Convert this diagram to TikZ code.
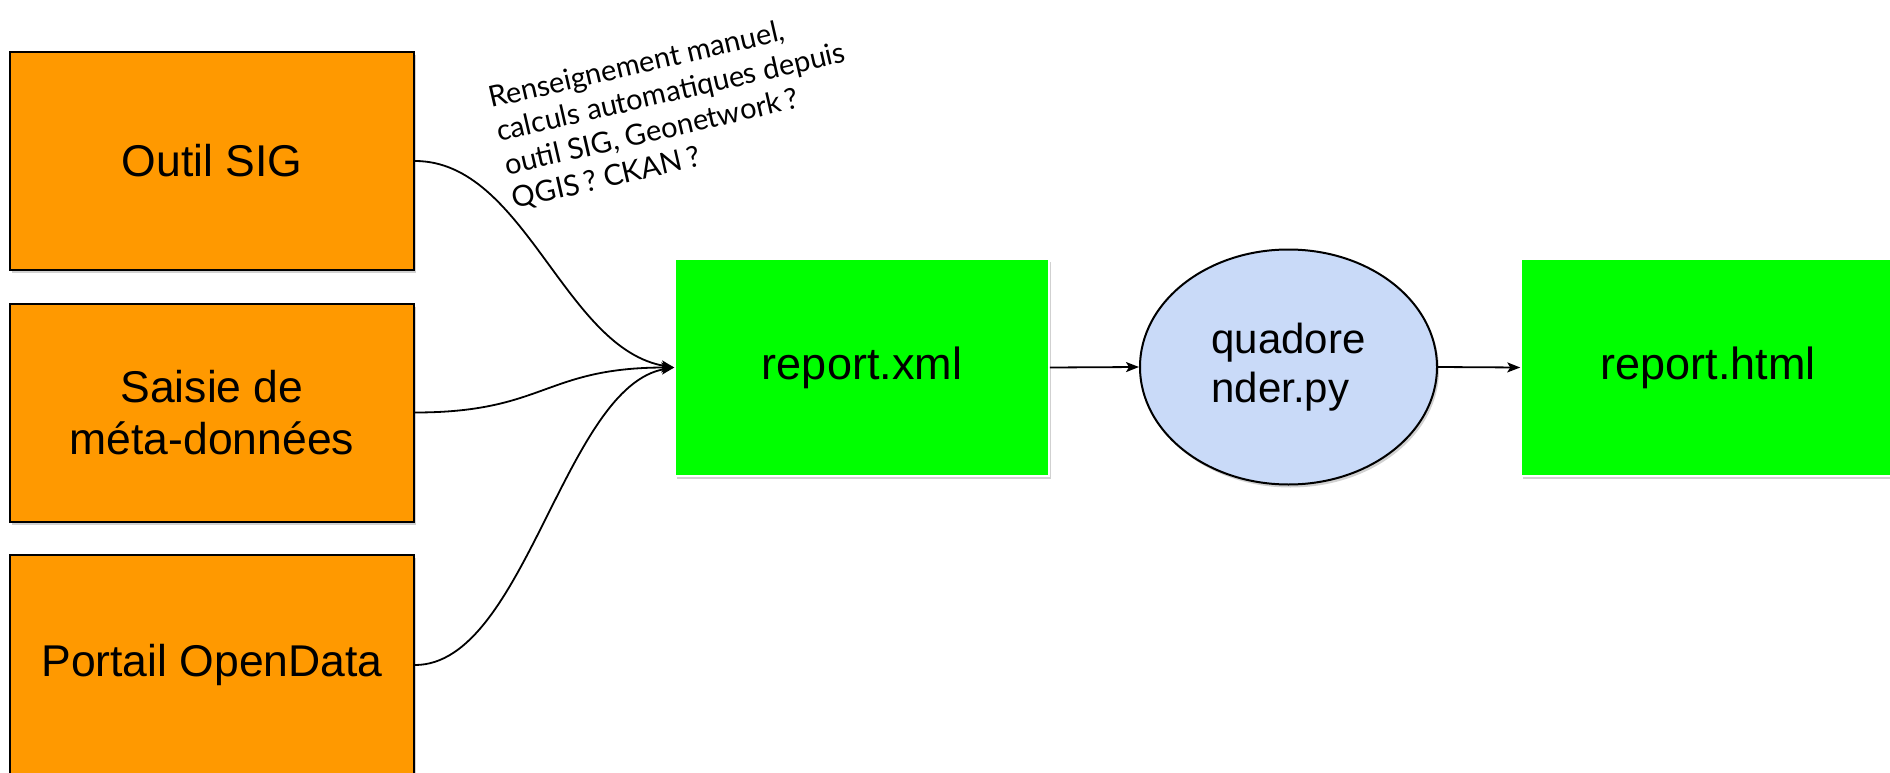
\documentclass[tikz,border=0pt]{standalone}
\usepackage{fontspec}
\setmainfont{Liberation Sans}
\newfontfamily\latofont{Lato}
\usetikzlibrary{arrows.meta,shapes.geometric,shadows}
\definecolor{orangebox}{HTML}{FF9900}
\definecolor{greenbox}{HTML}{00FF00}
\definecolor{bluebox}{HTML}{C9DAF8}
\tikzset{
  srcbox/.style={draw=black, line width=2pt, fill=orangebox, minimum width=404pt, minimum height=218pt, inner sep=0pt,
    font=\fontsize{44.5}{52}\selectfont, align=center,
    drop shadow={shadow xshift=2pt, shadow yshift=-3pt, opacity=0.3, fill=black!60}},
  filebox/.style={draw=white, line width=1.5pt, fill=greenbox, minimum width=374pt, minimum height=217pt, inner sep=0pt,
    font=\fontsize{45}{52}\selectfont,
    drop shadow={shadow xshift=2pt, shadow yshift=-3pt, opacity=0.3, fill=black!60}},
  procnode/.style={ellipse, draw=black, line width=2pt, fill=bluebox, minimum width=297pt, minimum height=235pt, inner sep=0pt,
    font=\fontsize{42}{48.5}\selectfont, align=left,
    drop shadow={shadow xshift=2pt, shadow yshift=-3pt, opacity=0.3, fill=black!60}},
  conn/.style={line width=1.8pt, -{Stealth[length=13pt,width=10pt,inset=3pt]}},
  notetext/.style={font=\latofont\fontsize{29}{34.5}\selectfont, align=left, rotate=13, inner sep=0pt}
}
\begin{document}
\begin{tikzpicture}[x=1pt,y=-1pt]
\useasboundingbox (0,0) rectangle (1890,773);
\node[srcbox] (sig) at (212,161) {Outil SIG};
\node[srcbox] (saisie) at (212,412.5) {Saisie de\\méta-données};
\node[srcbox, minimum height=220pt] (portail) at (212,665) {Portail OpenData};
\node[filebox] (xml) at (862,367.5) {report.xml};
\node[procnode] (quad) at (1288.5,367) {quadore\\nder.py};
\node[filebox] (html) at (1708,367.5) {report.html};
\draw[conn] (sig.east) .. controls +(110,0) and +(-110,-18) .. (xml.west);
\draw[conn] (saisie.east) .. controls +(130,0) and +(-130,0) .. (xml.west);
\draw[conn] (portail.east) .. controls +(110,0) and +(-110,18) .. (xml.west);
\draw[conn] (xml.east) -- (quad.west);
\draw[conn] (quad.east) -- (html.west);
\node[notetext] (note) at (675,110) {Renseignement manuel,\\calculs automatiques depuis\\outil SIG, Geonetwork\,?\\QGIS\,? CKAN\,?};
\end{tikzpicture}
\end{document}
